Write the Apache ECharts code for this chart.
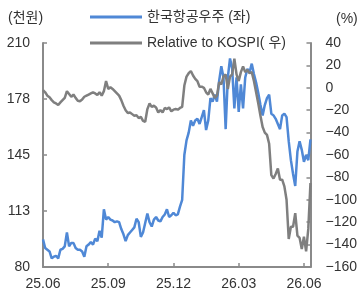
<!DOCTYPE html>
<html><head><meta charset="utf-8">
<script src="https://cdn.jsdelivr.net/npm/echarts@6/dist/echarts.min.js"></script>
<style>html,body{margin:0;padding:0;background:#fff}#c{width:360px;height:294px}</style>
</head><body><div id="c"></div>
<script>
// x-axis tick labels and their positions (index of point, ~30 points per quarter)
var tickLabels = ['25.06', '25.09', '25.12', '26.03', '26.06'];
var tickIndex = [0, 30, 60, 90, 120];
var seriesNames = ['한국항공우주 (좌)', 'Relative to KOSPI( 우)'];
// 한국항공우주 share price (천원, left axis)
var priceKAI = [
 96,91,90,89,85,86,86.5,85,90,90.5,
 92,100,92,94,94,91,90,90,89,86,
 92,93,94.5,93,96.5,95,101,97,113.5,107.5,
 109,107.5,107,106,106.5,106,102,99,95,98.5,
 100,101.5,103,108,106,97.5,100,105.5,111,106,
 103.5,107.5,109,107,106.5,109,110.5,113.5,109,110,
 111.5,110,110.5,115,119,145,153.5,158,165,162,
 165,166,163,167,171,159.5,165,178,176,180,
 176,188,196.5,190,160,190,201,195,172,190,
 170,186,172,190,195,193,198,192,187,181,
 174,168,174,178,180,169,168,166,163,160,
 168,169,167,153,142,134,127,147,153,148,
 141,145,142,154
];
// Relative to KOSPI (%, right axis)
var relKOSPI = [
 -2,-4,-7,-8.5,-11,-13,-14,-15.4,-13,-11,
 -9,-3,-5.5,-8,-6,-9,-11.5,-12,-10.5,-8,
 -7,-6,-5,-4,-5,-6.5,-4,-7,-3,6,
 -1,0.5,-1,-3,-5,-7,-11,-16,-20,-22.5,
 -22,-23.5,-25,-24.5,-27,-26,-29.5,-30.3,-19,-14,
 -17,-16,-17.5,-22,-20,-22,-18,-19,-17.5,-21,
 -19.5,-19,-19.5,-18,-17,2,10,13,15,11,
 8,6,1,1,0,-4,-6,-1,-5,-9,
 -7,5,3,10,12,-1,10,12,26,12,
 6,14,19,14,16,13,14,6,-4,-14,
 -25,-35,-40,-42,-50,-78,-81,-77,-72,-82,
 -82,-88,-100,-135,-124,-124,-112,-132,-134,-144,
 -133,-146,-126,-85
];
var categories = priceKAI.map(function (v, i) {
  var k = tickIndex.indexOf(i);
  return k >= 0 ? tickLabels[k] : String(i);
});
var FONT = '"Liberation Sans", Arial, "Noto Sans CJK KR", sans-serif';
var TXT = '#333333';
var AX = '#8a8a8a';
var chart = echarts.init(document.getElementById('c'), null, {renderer: 'canvas'});
chart.setOption({
  animation: false,
  textStyle: {fontFamily: FONT},
  grid: {left: 43, right: 41, top: 43, bottom: 27, containLabel: false},
  legend: {
    orient: 'vertical', left: 90, top: 10, itemGap: 12, padding: 0,
    itemWidth: 52, itemHeight: 3, icon: 'rect',
    textStyle: {fontFamily: FONT, fontSize: 14, color: TXT},
    data: seriesNames
  },
  graphic: [
    {type: 'text', left: 8, top: 11, style: {text: '(천원)', font: '14px ' + FONT, fill: TXT}},
    {type: 'text', left: 336, top: 12, style: {text: '(%)', font: '14px ' + FONT, fill: TXT}}
  ],
  xAxis: {
    type: 'category', data: categories, boundaryGap: false,
    axisLine: {onZero: false, lineStyle: {color: AX, width: 2}},
    axisTick: {inside: true, length: 4, lineStyle: {color: AX, width: 1.5},
      interval: function (i) { return tickIndex.indexOf(i) >= 0; }},
    axisLabel: {fontSize: 14, color: TXT, margin: 10, fontFamily: FONT,
      interval: function (i) { return tickIndex.indexOf(i) >= 0; }},
    splitLine: {show: false}
  },
  yAxis: [
    {type: 'value', min: 80, max: 210, interval: 32.5, position: 'left',
      axisLine: {show: true, onZero: false, lineStyle: {color: AX, width: 2}},
      axisTick: {show: true, inside: true, length: 4, lineStyle: {color: AX, width: 1.5}},
      axisLabel: {fontSize: 14, color: TXT, margin: 13, fontFamily: FONT,
        formatter: function (v) { return String(Math.round(v)); }},
      splitLine: {show: false}},
    {type: 'value', min: -160, max: 40, interval: 20, position: 'right',
      axisLine: {show: true, onZero: false, lineStyle: {color: AX, width: 2}},
      axisTick: {show: true, inside: true, length: 4, lineStyle: {color: AX, width: 1.5}},
      axisLabel: {fontSize: 14, color: TXT, margin: 15, fontFamily: FONT,
        formatter: function (v) { return String(v).replace('-', '\u2212'); }},
      splitLine: {show: false}}
  ],
  series: [
    {name: seriesNames[0], type: 'line', yAxisIndex: 0, data: priceKAI,
      showSymbol: false, symbol: 'none', lineStyle: {color: '#4f88d6', width: 2.5}, itemStyle: {color: '#4f88d6'}},
    {name: seriesNames[1], type: 'line', yAxisIndex: 1, data: relKOSPI,
      showSymbol: false, symbol: 'none', lineStyle: {color: '#7f7f7f', width: 2.5}, itemStyle: {color: '#7f7f7f'}}
  ]
});
</script></body></html>
